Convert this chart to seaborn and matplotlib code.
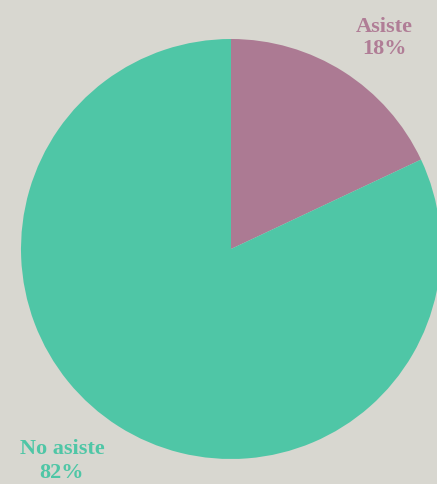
"""Pie chart: asistencia."""

import matplotlib.pyplot as plt
import seaborn as sns

categories = ["Asiste", "No asiste"]
values = [18, 82]

BG = "#d8d7d0"
COLORS = ["#ac7a93", "#4fc6a6"]
TEXT_COLORS = ["#b07d96", "#4fc6a6"]


def main() -> None:
    sns.set_style("white")
    plt.rcParams["font.family"] = ["Liberation Serif", "DejaVu Serif"]

    fig = plt.figure(figsize=(4.37, 4.84), dpi=100, facecolor=BG)
    ax = fig.add_axes([0, 0, 1, 1])
    ax.set_facecolor(BG)

    ax.pie(
        values,
        colors=COLORS,
        startangle=90,
        counterclock=False,
        center=(231, 235),
        radius=210,
        wedgeprops={"linewidth": 0},
        frame=True,
    )
    ax.set_xlim(0, 437)
    ax.set_ylim(0, 484)
    ax.set_aspect("equal")
    ax.axis("off")

    label_pos = [(384, 446), (62, 23)]
    for name, val, (x, y), color in zip(categories, values, label_pos, TEXT_COLORS):
        ax.text(x, y, f"{name}\n{val}%", ha="center", va="center",
                fontsize=16, color=color, fontweight="bold", linespacing=1.2)

    fig.savefig("out.png", dpi=100, facecolor=BG)
    plt.close(fig)


if __name__ == "__main__":
    main()
